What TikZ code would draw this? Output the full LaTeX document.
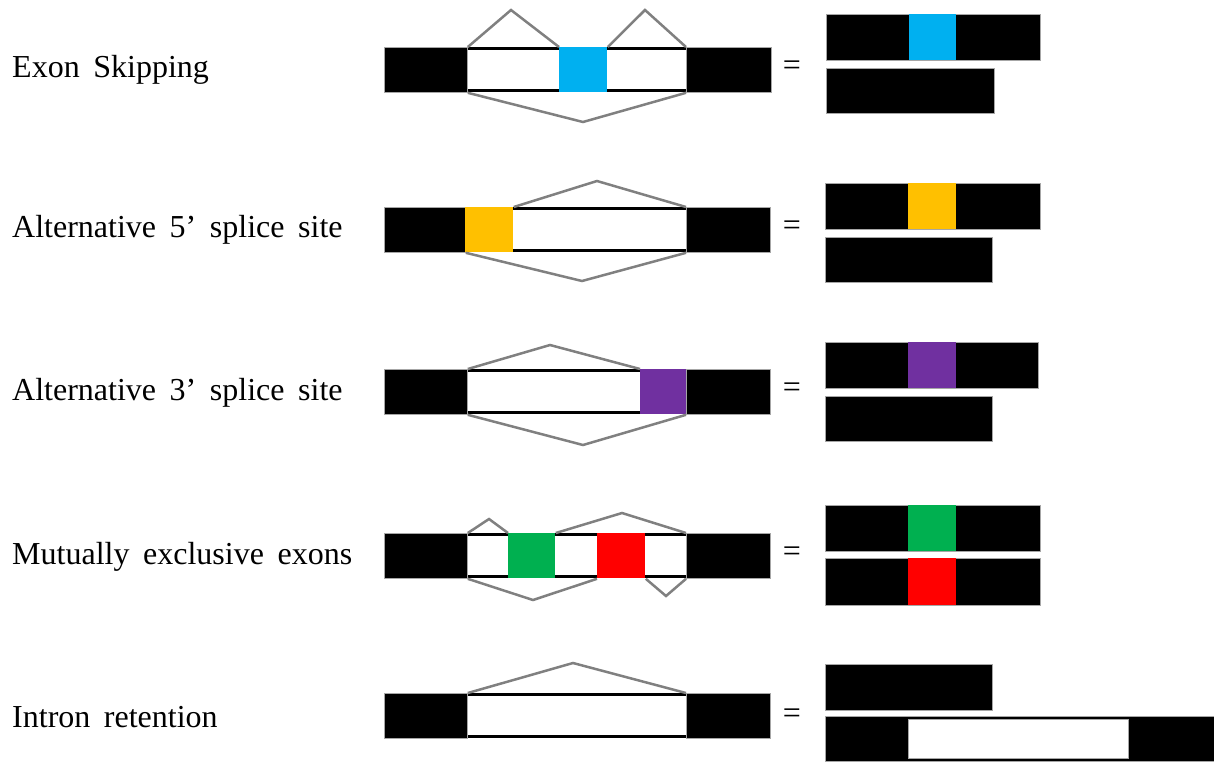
\documentclass[tikz,border=0pt]{standalone}
\usepackage{fontspec}
\setmainfont{Liberation Serif}[WordSpace=1.7]
\usetikzlibrary{positioning}

\definecolor{skipblue}{HTML}{00B0F0}
\definecolor{fiveorange}{HTML}{FFC000}
\definecolor{threepurple}{HTML}{7030A0}
\definecolor{mxgreen}{HTML}{00B050}
\definecolor{mxred}{HTML}{FF0000}

\begin{document}
\begin{tikzpicture}[x=1pt, y=-1pt,
    exon/.style ={rectangle, fill=black, draw=gray!70, line width=0.8pt, inner sep=0pt,
                  minimum height=45, anchor=north west},
    altexon/.style ={exon, fill=#1, draw=none},
    intron/.style ={rectangle, fill=white, draw=none, inner sep=0pt,
                  minimum height=45, anchor=north west},
    edge/.style ={line width=3pt, black},
    junction/.style ={line width=2.5pt, gray},
    caption/.style ={anchor=base west, inner sep=0pt, font=\fontsize{32}{38}\selectfont},
    equals/.style ={inner sep=0pt, font=\fontsize{32}{38}\selectfont}]
   \useasboundingbox (0,0) rectangle (1214,761);

   % exon skipping
   \node[caption] (t1) at (12,77) {Exon Skipping};
   \node[intron, minimum width=219] (i1) at (467,47) {};
   \draw[edge] ([yshift=-1.5]i1.north west) -- ([yshift=-1.5]i1.north east);
   \draw[edge] ([yshift=1.5]i1.south west) -- ([yshift=1.5]i1.south east);
   \node[exon, minimum width=83] (s1) at (384,47) {};
   \node[altexon=skipblue, minimum width=48] (c1) at (559,47) {};
   \node[exon, minimum width=85] (e1) at (686,47) {};
   \coordinate (p1a) at (511,10);
   \coordinate (p1b) at (645,10);
   \coordinate (p1c) at (583,122);
   \draw[junction] (s1.north east) -- (p1a) -- (c1.north west);
   \draw[junction] (c1.north east) -- (p1b) -- (e1.north west);
   \draw[junction] (s1.south east) -- (p1c) -- (e1.south west);
   \node[equals] (q1) at (792,68) {=};
   \node[exon, minimum width=214, minimum height=46] (r1a) at (826,14) {};
   \node[altexon=skipblue, minimum width=47, minimum height=46] (r1b) at (909,14) {};
   \node[exon, minimum width=168] (r1c) at (826,68) {};

   % alternative 5' splice site
   \node[caption] (t2) at (12,237) {Alternative 5’ splice site};
   \node[intron, minimum width=173] (i2) at (513,207) {};
   \draw[edge] ([yshift=-1.5]i2.north west) -- ([yshift=-1.5]i2.north east);
   \draw[edge] ([yshift=1.5]i2.south west) -- ([yshift=1.5]i2.south east);
   \node[exon, minimum width=81] (s2) at (384,207) {};
   \node[altexon=fiveorange, minimum width=48] (c2) at (465,207) {};
   \node[exon, minimum width=84] (e2) at (686,207) {};
   \coordinate (p2a) at (597,181);
   \coordinate (p2b) at (582,281);
   \draw[junction] (c2.north east) -- (p2a) -- (e2.north west);
   \draw[junction] (s2.south east) -- (p2b) -- (e2.south west);
   \node[equals] (q2) at (792,228) {=};
   \node[exon, minimum width=215, minimum height=46] (r2a) at (825,183) {};
   \node[altexon=fiveorange, minimum width=48, minimum height=46] (r2b) at (908,183) {};
   \node[exon, minimum width=167] (r2c) at (825,237) {};

   % alternative 3' splice site
   \node[caption] (t3) at (12,400) {Alternative 3’ splice site};
   \node[intron, minimum width=173] (i3) at (467,369) {};
   \draw[edge] ([yshift=-1.5]i3.north west) -- ([yshift=-1.5]i3.north east);
   \draw[edge] ([yshift=1.5]i3.south west) -- ([yshift=1.5]i3.south east);
   \node[exon, minimum width=83] (s3) at (384,369) {};
   \node[altexon=threepurple, minimum width=46] (c3) at (640,369) {};
   \node[exon, minimum width=84] (e3) at (686,369) {};
   \coordinate (p3a) at (550,345);
   \coordinate (p3b) at (583,445);
   \draw[junction] (s3.north east) -- (p3a) -- (c3.north west);
   \draw[junction] (s3.south east) -- (p3b) -- (e3.south west);
   \node[equals] (q3) at (792,390) {=};
   \node[exon, minimum width=213, minimum height=46] (r3a) at (825,342) {};
   \node[altexon=threepurple, minimum width=48, minimum height=46] (r3b) at (908,342) {};
   \node[exon, minimum width=167] (r3c) at (825,396) {};

   % mutually exclusive exons
   \node[caption] (t4) at (12,564) {Mutually exclusive exons};
   \node[intron, minimum width=219] (i4) at (467,533) {};
   \draw[edge] ([yshift=-1.5]i4.north west) -- ([yshift=-1.5]i4.north east);
   \draw[edge] ([yshift=1.5]i4.south west) -- ([yshift=1.5]i4.south east);
   \node[exon, minimum width=83] (s4) at (384,533) {};
   \node[altexon=mxgreen, minimum width=47] (g4) at (508,533) {};
   \node[altexon=mxred, minimum width=48] (m4) at (597,533) {};
   \node[exon, minimum width=84] (e4) at (686,533) {};
   \coordinate (p4a) at (489,519);
   \coordinate (p4b) at (622,513);
   \coordinate (p4c) at (533,600);
   \coordinate (p4d) at (666,596);
   \draw[junction] (s4.north east) -- (p4a) -- (g4.north west);
   \draw[junction] (g4.north east) -- (p4b) -- (e4.north west);
   \draw[junction] (s4.south east) -- (p4c) -- (m4.south west);
   \draw[junction] (m4.south east) -- (p4d) -- (e4.south west);
   \node[equals] (q4) at (792,554) {=};
   \node[exon, minimum width=215, minimum height=46] (r4a) at (825,505) {};
   \node[altexon=mxgreen, minimum width=48, minimum height=46] (r4b) at (908,505) {};
   \node[exon, minimum width=215, minimum height=47] (r4c) at (825,558) {};
   \node[altexon=mxred, minimum width=48, minimum height=47] (r4d) at (908,558) {};

   % intron retention
   \node[caption] (t5) at (12,727) {Intron retention};
   \node[intron, minimum width=219] (i5) at (467,693) {};
   \draw[edge] ([yshift=-1.5]i5.north west) -- ([yshift=-1.5]i5.north east);
   \draw[edge] ([yshift=1.5]i5.south west) -- ([yshift=1.5]i5.south east);
   \node[exon, minimum width=83] (s5) at (384,693) {};
   \node[exon, minimum width=84] (e5) at (686,693) {};
   \coordinate (p5a) at (573,663);
   \draw[junction] (s5.north east) -- (p5a) -- (e5.north west);
   \node[equals] (q5) at (792,716) {=};
   \node[exon, minimum width=167, minimum height=46] (r5a) at (825,664) {};
   \node[exon, minimum width=389] (r5b) at (825,716) {};
   \node[intron, draw=gray!70, line width=0.8pt, minimum width=220, minimum height=39] (r5c) at (908,719) {};
\end{tikzpicture}
\end{document}
